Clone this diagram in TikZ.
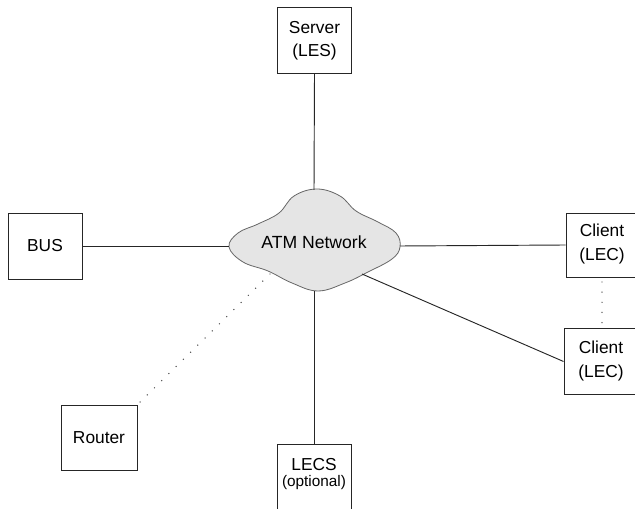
\documentclass[tikz,border=0pt]{standalone}
\usepackage{fontspec}
\setmainfont{Liberation Sans}
\begin{document}
\begin{tikzpicture}[x=0.75pt,y=-0.75pt,
  boxnode/.style={draw=black!85, line width=0.7pt, minimum width=55.5pt, minimum height=49.5pt, inner sep=0pt, align=center, font=\fontsize{13}{17.5}\selectfont},
  txt/.style={align=center, font=\fontsize{13}{17.5}\selectfont, inner sep=0pt},
  conn/.style={draw=black!85, line width=0.7pt},
  dotconn/.style={draw=black!70, line width=1.1pt, line cap=round, dash pattern=on 0pt off 7.6pt}]
\clip (0,0) rectangle (635,509);
% cloud
\filldraw[fill=black!10, draw=black!60, line width=0.6pt]
  plot[smooth cycle, tension=0.65] coordinates {
  (229,247) (238,233) (258,224) (279,213) (294,196) (317,189) (340,196)
  (356,211) (378,222) (396,233) (400,247) (392,259) (368,272) (345,283)
  (318,291) (292,283) (268,271) (243,262)};
\node[txt, font=\fontsize{13.2}{16}\selectfont] (atm) at (314,242) {ATM Network};
\coordinate (cl) at (229,246);
\coordinate (cr) at (400,246);
\coordinate (ct) at (314,190);
\coordinate (cb) at (314,291);
\coordinate (cbr) at (362,274);
\coordinate (cbl) at (270,274);
% boxes
\node[boxnode] (server) at (314.5,40.5) {Server\\(LES)};
\node[boxnode] (bus) at (45,246) {BUS};
\node[boxnode, minimum width=60pt, minimum height=48pt] (client1) at (606,245) {};
\node[txt] (client1txt) at (602,244) {Client\\(LEC)};
\node[boxnode, minimum width=60pt, minimum height=50pt] (client2) at (604,361.5) {};
\node[txt] (client2txt) at (601,361) {Client\\(LEC)};
\node[boxnode, minimum width=57pt, minimum height=48.75pt] (router) at (99,437.5) {Router};
\node[boxnode, minimum width=55.5pt, minimum height=52.5pt] (lecs) at (314,479) {};
\node[txt] (lecstxt) at (314,464.5) {LECS};
\node[txt, font=\fontsize{11.5}{14}\selectfont] (opt) at (314,483) {(optional)};
% connectors
\draw[conn] (server.south) -- (ct);
\draw[conn] (bus.east) -- (cl);
\draw[conn] (cr) -- (client1.west);
\draw[conn] (cbr) -- (client2.west);
\draw[conn] (cb) -- (lecs.north);
\draw[dotconn] (cbl) -- (router.north east);
\coordinate (d1) at (602,282);
\coordinate (d2) at (602,327);
\draw[dotconn] (d1) -- (d2);
\end{tikzpicture}
\end{document}
